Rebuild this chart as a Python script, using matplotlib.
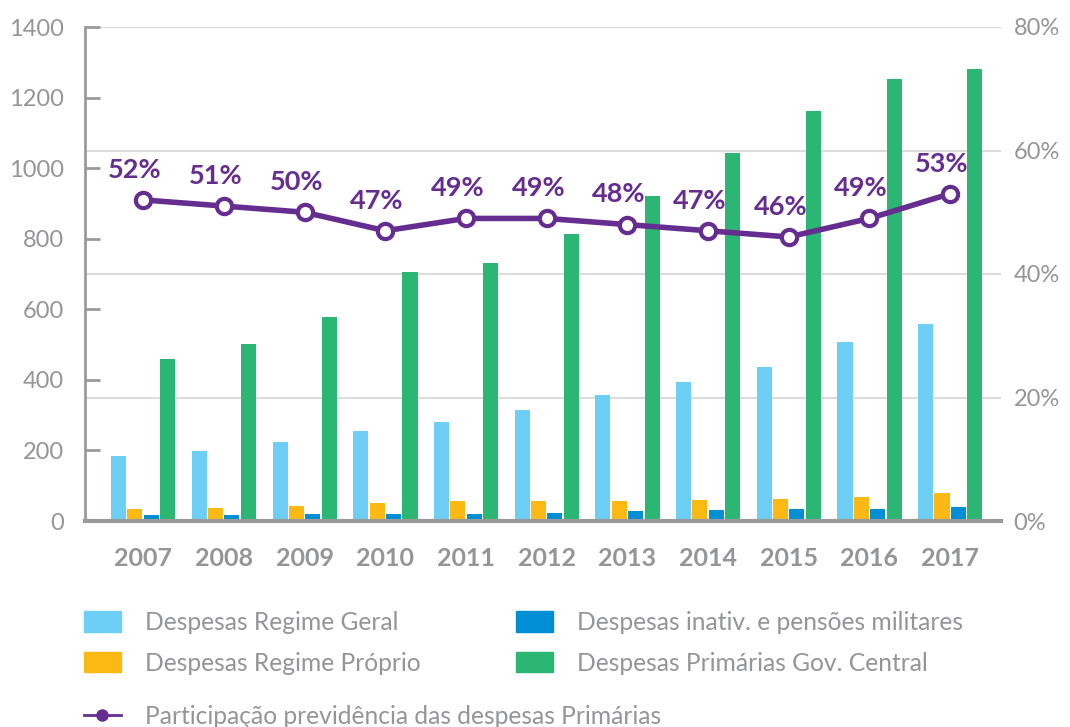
import matplotlib
matplotlib.use("Agg")
import matplotlib.pyplot as plt
import numpy as np
from matplotlib.patches import Patch
from matplotlib.lines import Line2D

plt.rcParams['font.family'] = ['Lato', 'DejaVu Sans']

years = ['2007', '2008', '2009', '2010', '2011', '2012', '2013', '2014', '2015', '2016', '2017']
regime_geral = [184, 198, 224, 255, 280, 315, 357, 394, 436, 507, 558]
regime_proprio = [34, 37, 42, 51, 57, 57, 57, 60, 62, 68, 79]
militares = [17, 17, 20, 20, 20, 23, 28, 31, 34, 34, 40]
primarias = [459, 502, 578, 706, 731, 813, 921, 1043, 1162, 1252, 1281]
participacao = [52, 51, 50, 47, 49, 49, 48, 47, 46, 49, 53]
left_ticks = [0, 200, 400, 600, 800, 1000, 1200, 1400]
right_ticks = [0, 20, 40, 60, 80]

c_lb = '#6DCFF6'
c_yel = '#FDB913'
c_blue = '#008FD5'
c_green = '#2BB673'
c_purple = '#662D91'
c_grey = '#939598'
c_grid = '#DCDCDC'

fig = plt.figure(figsize=(10.7, 7.27), dpi=100)
ax = fig.add_axes([85/1070, 1-521/727, (1001-85)/1070, (521-27)/727])
ax2 = ax.twinx()

x = np.arange(len(years))
w = 0.186
step = 0.202
ax.bar(x - 1.5*step, regime_geral, w, color=c_lb, zorder=2)
ax.bar(x - 0.5*step, regime_proprio, w, color=c_yel, zorder=2)
ax.bar(x + 0.5*step, militares, w, color=c_blue, zorder=2)
ax.bar(x + 1.52*step, primarias, w, color=c_green, zorder=2)

ax.set_xlim(-0.72, 10.63)
ax.set_ylim(0, 1400)
ax.set_yticks(left_ticks)
ax.set_yticklabels([str(t) for t in left_ticks])
ax.tick_params(axis='y', direction='in', length=11, width=2, color='#9A9A9A',
               labelsize=17, labelcolor=c_grey, pad=15)
ax.set_xticks(x)
ax.set_xticklabels(years, fontweight='bold')
ax.tick_params(axis='x', length=0, labelsize=18, labelcolor=c_grey, pad=19)
for s in ['top', 'right']:
    ax.spines[s].set_visible(False)
ax.spines['left'].set_color('#9A9A9A')
ax.spines['left'].set_linewidth(2)
ax.spines['bottom'].set_color('#9A9A9A')
ax.spines['bottom'].set_linewidth(3)

ax2.set_ylim(0, 80)
ax2.set_yticks(right_ticks)
ax2.set_yticklabels([f'{t}%' for t in right_ticks])
ax2.tick_params(axis='y', length=0, labelsize=17, labelcolor=c_grey, pad=9)
for s in ['top', 'right', 'left', 'bottom']:
    ax2.spines[s].set_visible(False)
for t in right_ticks[1:]:
    ax.axhline(t * 1400 / 80, color=c_grid, lw=1.5, zorder=1)

ax2.plot(x, participacao, color=c_purple, lw=4, marker='o', markersize=11,
         markerfacecolor='white', markeredgecolor=c_purple, markeredgewidth=3, zorder=5)
for xi, p in zip(x, participacao):
    ax2.annotate(f'{p}%', (xi, p), xytext=(-6, 16), textcoords='offset points',
                 ha='center', va='baseline', fontsize=19.5, fontweight='bold', color=c_purple)

ax.set_zorder(1)
ax2.set_zorder(2)
ax.patch.set_visible(False)

leg_kw = dict(frameon=False, fontsize=17.7, labelcolor=c_grey, handlelength=1.5,
              handleheight=0.9, handletextpad=1.0, labelspacing=0.72,
              borderpad=0, borderaxespad=0, loc='upper left')
fig.legend(handles=[Patch(color=c_lb, label='Despesas Regime Geral'),
                    Patch(color=c_yel, label='Despesas Regime Próprio')],
           bbox_to_anchor=(84/1070, 1-611/727), **leg_kw)
fig.legend(handles=[Patch(color=c_blue, label='Despesas inativ. e pensões militares'),
                    Patch(color=c_green, label='Despesas Primárias Gov. Central')],
           bbox_to_anchor=(516/1070, 1-611/727), **leg_kw)
fig.legend(handles=[Line2D([0], [0], color=c_purple, lw=2, marker='o', markersize=8,
                           markerfacecolor=c_purple, label='Participação previdência das despesas Primárias')],
           bbox_to_anchor=(84/1070, 1-705/727), **leg_kw)

fig.savefig('out.png', dpi=100)
